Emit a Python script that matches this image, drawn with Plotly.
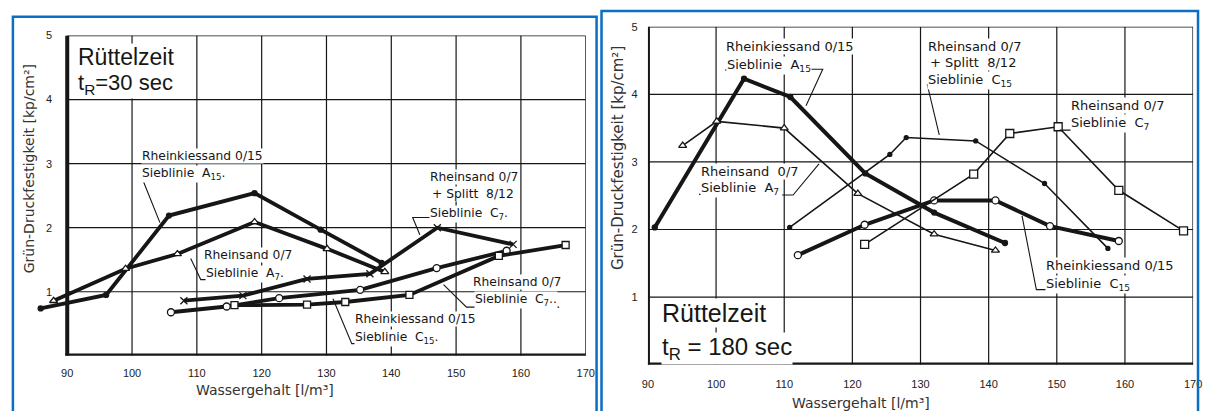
import plotly.graph_objects as go

# ---------------- data ----------------
# Left panel: Rüttelzeit t_R = 30 sec
x30_a15 = [85.9, 96.0, 105.7, 118.9, 129.1, 138.5]
y30_a15 = [0.74, 0.95, 2.19, 2.54, 1.97, 1.45]
x30_a7 = [87.9, 99.0, 107.0, 118.9, 130.1, 139.0]
y30_a7 = [0.86, 1.36, 1.59, 2.09, 1.67, 1.31]
x30_c7s = [108.0, 117.1, 127.0, 136.7, 147.1, 158.8]
y30_c7s = [0.86, 0.94, 1.20, 1.28, 2.00, 1.74]
x30_c15 = [106.0, 114.6, 122.7, 135.2, 147.0, 157.8]
y30_c15 = [0.68, 0.77, 0.90, 1.03, 1.37, 1.64]
x30_c7 = [115.8, 127.0, 132.9, 142.8, 156.6, 166.9]
y30_c7 = [0.79, 0.80, 0.84, 0.95, 1.56, 1.73]

# Right panel: Rüttelzeit t_R = 180 sec
x180_a15 = [91.0, 104.1, 110.9, 121.9, 132.0, 142.4]
y180_a15 = [2.03, 4.23, 3.96, 2.83, 2.25, 1.80]
x180_a7 = [95.1, 100.1, 110.0, 120.8, 132.0, 141.0]
y180_a7 = [3.24, 3.60, 3.50, 2.53, 1.93, 1.69]
x180_c15s = [110.8, 125.5, 127.9, 138.1, 148.2, 157.5]
y180_c15s = [2.03, 3.11, 3.36, 3.31, 2.68, 1.72]
x180_c15 = [112.0, 121.8, 132.0, 141.0, 149.0, 159.1]
y180_c15 = [1.62, 2.07, 2.43, 2.43, 2.05, 1.83]
x180_c7 = [121.8, 137.8, 143.1, 150.2, 159.1, 168.6]
y180_c7 = [1.78, 2.82, 3.42, 3.52, 2.58, 1.98]

x_ticks = [90, 100, 110, 120, 130, 140, 150, 160, 170]
y_ticks = [1, 2, 3, 4, 5]

INK = "#161616"
BLUE = "#0a6fc4"
FONT = "DejaVu Sans"
BIG = "Liberation Sans"
W, H = 1209, 411

fig = go.Figure()


def series(xs, ys, xa, ya, width, symbol, size, fill):
    fig.add_trace(go.Scatter(
        x=xs, y=ys, xaxis=xa, yaxis=ya, mode="lines+markers",
        line=dict(color=INK, width=width),
        marker=dict(symbol=symbol, size=size, color=fill,
                    line=dict(color=INK, width=1.3)),
        cliponaxis=False, showlegend=False, hoverinfo="skip"))


# left panel (all thick)
series(x30_a15, y30_a15, "x", "y", 3.8, "circle", 5, INK)
series(x30_a7, y30_a7, "x", "y", 3.8, "triangle-up", 7, "white")
series(x30_c7s, y30_c7s, "x", "y", 3.8, "x-thin", 7, INK)
series(x30_c15, y30_c15, "x", "y", 3.8, "circle", 7, "white")
series(x30_c7, y30_c7, "x", "y", 3.8, "square", 7, "white")

# right panel
series(x180_a15, y180_a15, "x2", "y2", 4.0, "circle", 5, INK)
series(x180_a7, y180_a7, "x2", "y2", 1.6, "triangle-up", 7, "white")
series(x180_c15s, y180_c15s, "x2", "y2", 1.6, "circle", 4, INK)
series(x180_c15, y180_c15, "x2", "y2", 4.0, "circle", 7, "white")
series(x180_c7, y180_c7, "x2", "y2", 1.6, "square", 8, "white")

shapes = []


def panel_frame(xr, yr):
    for v in x_ticks[1:-1]:
        shapes.append(dict(type="line", xref=xr, yref=yr, x0=v, x1=v, y0=0, y1=5,
                           line=dict(color=INK, width=1.2), layer="below"))
    for v in y_ticks[:-1]:
        shapes.append(dict(type="line", xref=xr, yref=yr, x0=90, x1=170, y0=v, y1=v,
                           line=dict(color=INK, width=1.2), layer="below"))
    # thin top / right
    shapes.append(dict(type="line", xref=xr, yref=yr, x0=90, x1=170, y0=5, y1=5,
                       line=dict(color=INK, width=1.4), layer="below"))
    shapes.append(dict(type="line", xref=xr, yref=yr, x0=170, x1=170, y0=0, y1=5,
                       line=dict(color=INK, width=1.4), layer="below"))
    # thick left / bottom
    shapes.append(dict(type="line", xref=xr, yref=yr, x0=90, x1=90, y0=0, y1=5,
                       line=dict(color=INK, width=4), layer="below"))
    shapes.append(dict(type="line", xref=xr, yref=yr, x0=89.7, x1=170.2, y0=0, y1=0,
                       line=dict(color=INK, width=4.5), layer="below"))


panel_frame("x", "y")
panel_frame("x2", "y2")


def leader(xr, yr, pts):
    path = "M " + " L ".join(f"{a},{b}" for a, b in pts)
    shapes.append(dict(type="path", xref=xr, yref=yr, path=path,
                       line=dict(color=INK, width=1.1), layer="above"))


# leaders / underlines, left panel
leader("x", "y", [(109.8, 2.76), (101.6, 2.76), (104.3, 2.08)])
leader("x", "y", [(121.7, 1.19), (110.6, 1.19), (109.05, 1.52)])
leader("x", "y", [(156.7, 2.16), (143.3, 2.16), (144.4, 1.89)])
leader("x", "y", [(165.9, 0.76), (151.6, 0.76), (148.06, 1.11)])
leader("x", "y", [(141.5, 0.19), (133.9, 0.19), (131.0, 0.89)])
# right panel
leader("x2", "y2", [(101.3, 4.36), (111.2, 4.36)])
leader("x2", "y2", [(113.5, 4.37), (115.65, 4.37), (113.2, 3.83)])
leader("x2", "y2", [(97.5, 2.52), (108.7, 2.52)])
leader("x2", "y2", [(109.7, 2.51), (111.3, 2.51), (115.1, 2.97)])
leader("x2", "y2", [(140.0, 4.14), (131.0, 4.14), (132.75, 3.40)])
leader("x2", "y2", [(150.4, 3.47), (162.5, 3.47)])
leader("x2", "y2", [(158.4, 1.11), (147.0, 1.11), (144.9, 2.20)])

# blue frames
shapes.append(dict(type="rect", xref="paper", yref="paper", x0=7 / W, x1=598 / W,
                   y0=-0.05, y1=1 - 11 / H, line=dict(color=BLUE, width=2.5)))
shapes.append(dict(type="rect", xref="paper", yref="paper", x0=603 / W, x1=1207 / W,
                   y0=-0.05, y1=1 - 5 / H, line=dict(color=BLUE, width=2.5)))

annotations = []


def txt(x, y, s, xr, yr, size, family=FONT):
    annotations.append(dict(x=x, y=y, xref=xr, yref=yr, text=s, showarrow=False,
                            xanchor="left", yanchor="middle",
                            font=dict(size=size, family=family, color=INK),
                            bgcolor="white", borderpad=0))


# left panel texts
txt(91.5, 4.66, "Rüttelzeit", "x", "y", 23, BIG)
txt(91.5, 4.24, "t<sub>R</sub>=30 sec", "x", "y", 22, BIG)
txt(101.4, 3.12, "Rheinkiessand 0/15", "x", "y", 12.3)
txt(101.4, 2.84, "Sieblinie  A<sub>15</sub>.", "x", "y", 12.3)
txt(111.0, 1.57, "Rheinsand 0/7", "x", "y", 12.3)
txt(111.2, 1.28, "Sieblinie  A<sub>7</sub>.", "x", "y", 12.3)
txt(145.8, 2.79, "Rheinsand 0/7", "x", "y", 12.3)
txt(146.1, 2.52, "+ Splitt  8/12", "x", "y", 12.3)
txt(145.8, 2.22, "Sieblinie  C<sub>7</sub>.", "x", "y", 12.3)
txt(152.5, 1.15, "Rheinsand 0/7", "x", "y", 12.3)
txt(152.8, 0.87, "Sieblinie  C<sub>7</sub>..", "x", "y", 12.3)
txt(134.3, 0.57, "Rheinkiessand 0/15", "x", "y", 12.3)
txt(134.3, 0.28, "Sieblinie  C<sub>15</sub>.", "x", "y", 12.3)

# right panel texts
txt(91.9, 0.76, "Rüttelzeit", "x2", "y2", 25, BIG)
txt(91.9, 0.24, "t<sub>R</sub> = 180 sec", "x2", "y2", 24, BIG)
txt(101.3, 4.71, "Rheinkiessand 0/15", "x2", "y2", 13)
txt(101.4, 4.43, "Sieblinie  A<sub>15</sub>", "x2", "y2", 13)
txt(97.7, 2.86, "Rheinsand  0/7", "x2", "y2", 13)
txt(97.7, 2.60, "Sieblinie  A<sub>7</sub>", "x2", "y2", 13)
txt(131.0, 4.71, "Rheinsand 0/7", "x2", "y2", 13)
txt(131.3, 4.475, "+ Splitt  8/12", "x2", "y2", 13)
txt(131.0, 4.21, "Sieblinie  C<sub>15</sub>", "x2", "y2", 13)
txt(151.9, 3.83, "Rheinsand 0/7", "x2", "y2", 13)
txt(151.9, 3.57, "Sieblinie  C<sub>7</sub>", "x2", "y2", 13)
txt(148.3, 1.47, "Rheinkiessand 0/15", "x2", "y2", 13)
txt(148.3, 1.18, "Sieblinie  C<sub>15</sub>", "x2", "y2", 13)

# axis titles
for xc, yc, size in [(262, 390, 14), (866, 403, 14)]:
    annotations.append(dict(x=xc / W, y=1 - yc / H, xref="paper", yref="paper",
                            text="Wassergehalt [l/m³]", showarrow=False,
                            xanchor="center", yanchor="middle",
                            font=dict(size=size, family=FONT, color="#333")))
for xc, yc, size in [(23, 165, 14), (619, 154, 15)]:
    annotations.append(dict(x=xc / W, y=1 - yc / H, xref="paper", yref="paper",
                            text="Grün-Druckfestigkeit [kp/cm²]", showarrow=False,
                            textangle=-90, xanchor="center", yanchor="middle",
                            font=dict(size=size, family=FONT, color="#333")))

tickfont = dict(size=11, family=BIG, color="#222")
common_x = dict(tickvals=x_ticks, showgrid=False, zeroline=False, showline=False,
                ticks="outside", tickcolor="rgba(0,0,0,0)", tickfont=tickfont,
                fixedrange=True)
common_y = dict(range=[0, 5], tickvals=y_ticks, showgrid=False, zeroline=False,
                showline=False, ticks="outside", tickcolor="rgba(0,0,0,0)",
                tickfont=tickfont, fixedrange=True)

fig.update_layout(
    width=W, height=H, autosize=False,
    margin=dict(l=0, r=0, t=0, b=0),
    paper_bgcolor="white", plot_bgcolor="white",
    xaxis=dict(domain=[29.2 / W, 587 / W], range=[85, 170], anchor="y",
               ticklen=7, **common_x),
    yaxis=dict(domain=[1 - 355 / H, 1 - 30 / H], anchor="free", position=62 / W,
               ticklen=13, **common_y),
    xaxis2=dict(domain=[650 / W, 1202 / W], range=[90, 170], anchor="y2",
                ticklen=9, **common_x),
    yaxis2=dict(domain=[1 - 364 / H, 1 - 21 / H], anchor="x2",
                ticklen=7, **common_y),
    shapes=shapes,
    annotations=annotations,
    showlegend=False,
)

fig.write_html("out.html")
